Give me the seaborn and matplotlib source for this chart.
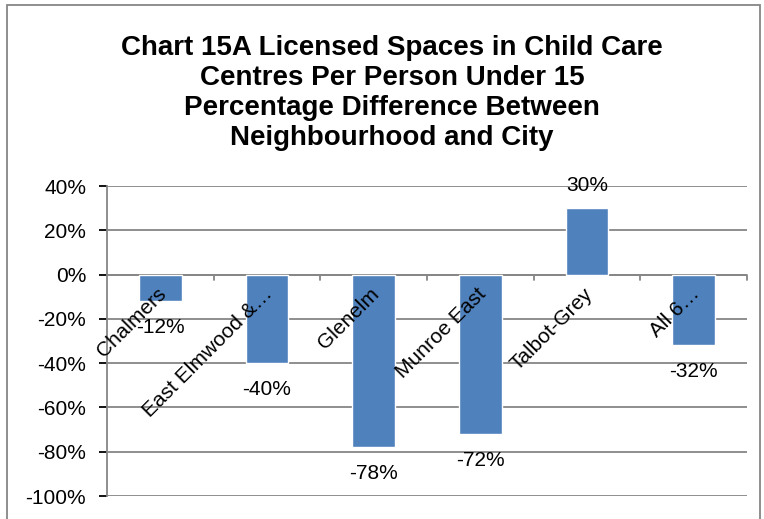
import matplotlib
matplotlib.use("Agg")
import matplotlib.pyplot as plt
from matplotlib.patches import Rectangle
from matplotlib.ticker import FuncFormatter, MultipleLocator
import seaborn as sns
import pandas as pd

neighbourhoods = ["Chalmers", "East Elmwood &\u2026", "Glenelm", "Munroe East", "Talbot-Grey", "All 6\u2026"]
pct_difference = [-12, -40, -78, -72, 30, -32]
value_labels = ["-12%", "-40%", "-78%", "-72%", "30%", "-32%"]

title = ("Chart 15A Licensed Spaces in Child Care\n"
         "Centres Per Person Under 15\n"
         "Percentage Difference Between\n"
         "Neighbourhood and City")

sns.set_theme(style="white")
plt.rcParams["font.family"] = ["Liberation Sans", "DejaVu Sans"]

W, H = 764, 519
fig = plt.figure(figsize=(W / 100, H / 100), dpi=100)
ax = fig.add_axes([107 / W, 1 - 496 / H, (747 - 107) / W, (496 - 186) / H])

df = pd.DataFrame({"area": neighbourhoods, "pct": pct_difference})
sns.barplot(data=df, x="area", y="pct", color="#4F81BD", saturation=1,
            width=0.4, ax=ax, zorder=3)

grid_c = "#868686"
fs = 15
ax.set_ylim(-100, 40)
ax.set_xlim(-0.5, len(neighbourhoods) - 0.5)
ax.yaxis.set_major_locator(MultipleLocator(20))
ax.yaxis.set_major_formatter(FuncFormatter(lambda v, p: f"{v:.0f}%"))
ax.grid(axis="y", color=grid_c, linewidth=1.3, zorder=0)
ax.tick_params(axis="y", labelsize=fs, colors="black", length=6, width=1.3,
               direction="out", left=True, pad=9)
for t in ax.get_yticklines():
    t.set_color(grid_c)
ax.set_xticks([])
ax.set_xlabel("")
ax.set_ylabel("")
for side in ["top", "right", "bottom"]:
    ax.spines[side].set_visible(False)
ax.spines["left"].set_color(grid_c)
ax.spines["left"].set_linewidth(1.3)

# category axis crossing at zero, with ticks between categories
ax.axhline(0, color=grid_c, linewidth=1.3, zorder=2)
for b in range(1, len(neighbourhoods) + 1):
    ax.plot([b - 0.5, b - 0.5], [0, -2.6], color=grid_c, linewidth=1.3,
            zorder=2, clip_on=False)

# category labels sit on the zero axis, rotated
for i, name in enumerate(neighbourhoods):
    ax.annotate(name, xy=(i, 0), xytext=(-3, -7), textcoords="offset points",
                rotation=45, rotation_mode="anchor", ha="right", va="top",
                fontsize=fs, color="black", zorder=5)

# value labels outside bar ends
for i, (v, lab) in enumerate(zip(pct_difference, value_labels)):
    off = 16 if v >= 0 else -19
    ax.annotate(lab, xy=(i, v), xytext=(0, off), textcoords="offset points",
                ha="center", va="center", fontsize=fs, color="black", zorder=5)

fig.text(392 / W, 1 - 93 / H, title, ha="center", va="center", fontsize=20,
         fontweight="bold", linespacing=1.2, color="black")

# chart area border
fig.patches.append(Rectangle((7 / W, -0.05), (760 - 7) / W, 1 - 5 / H + 0.05,
                             transform=fig.transFigure, fill=False,
                             edgecolor=grid_c, linewidth=1.3))

fig.savefig("out.png", dpi=100)
